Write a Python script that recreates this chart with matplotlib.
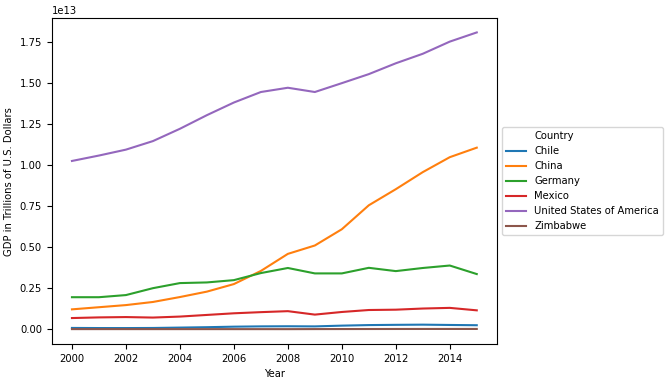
import matplotlib
matplotlib.use("Agg")
import matplotlib.pyplot as plt
from matplotlib.lines import Line2D

years = list(range(2000, 2016))
countries = ["Chile", "China", "Germany", "Mexico", "United States of America", "Zimbabwe"]
chile = [0.078, 0.071, 0.070, 0.076, 0.099, 0.123, 0.155, 0.173, 0.180, 0.172, 0.218, 0.252, 0.267, 0.278, 0.259, 0.243]
china = [1.21, 1.34, 1.47, 1.66, 1.96, 2.29, 2.75, 3.55, 4.59, 5.10, 6.09, 7.55, 8.53, 9.57, 10.48, 11.06]
germany = [1.95, 1.95, 2.08, 2.50, 2.81, 2.85, 2.99, 3.42, 3.73, 3.40, 3.40, 3.74, 3.54, 3.73, 3.88, 3.36]
mexico = [0.68, 0.72, 0.74, 0.71, 0.77, 0.87, 0.97, 1.04, 1.10, 0.89, 1.05, 1.17, 1.19, 1.26, 1.30, 1.15]
usa = [10.25, 10.58, 10.94, 11.46, 12.21, 13.04, 13.81, 14.45, 14.71, 14.45, 14.99, 15.54, 16.20, 16.78, 17.52, 18.08]
zimbabwe = [0.0067, 0.0068, 0.0063, 0.0057, 0.0058, 0.0058, 0.0054, 0.0053, 0.0044, 0.0082, 0.0101, 0.0121, 0.0142, 0.0155, 0.0159, 0.0163]
series = [chile, china, germany, mexico, usa, zimbabwe]
colors = ["#1f77b4", "#ff7f0e", "#2ca02c", "#d62728", "#9467bd", "#8c564b"]

FS = 7.2
fig = plt.figure(figsize=(6.69, 3.82), dpi=100)
ax = fig.add_axes([0.0773, 0.0995, 0.6656, 0.853])
for name, vals, c in zip(countries, series, colors):
    ax.plot(years, [v * 1e12 for v in vals], color=c, label=name, linewidth=1.5)

ax.set_xlabel("Year", fontsize=FS)
ax.set_ylabel("GDP in Trillions of U.S. Dollars", fontsize=FS)
ax.tick_params(labelsize=FS)
ax.yaxis.get_offset_text().set_fontsize(FS)
ax.set_xticks([2000, 2002, 2004, 2006, 2008, 2010, 2012, 2014])
ax.set_ylim(-0.09e13, 1.895e13)

handles, labels = ax.get_legend_handles_labels()
blank = Line2D([], [], linestyle="none")
ax.legend([blank] + handles, ["Country"] + labels, loc="center left",
          bbox_to_anchor=(1.0, 0.5), fontsize=FS)

fig.savefig("out.png", dpi=100)
